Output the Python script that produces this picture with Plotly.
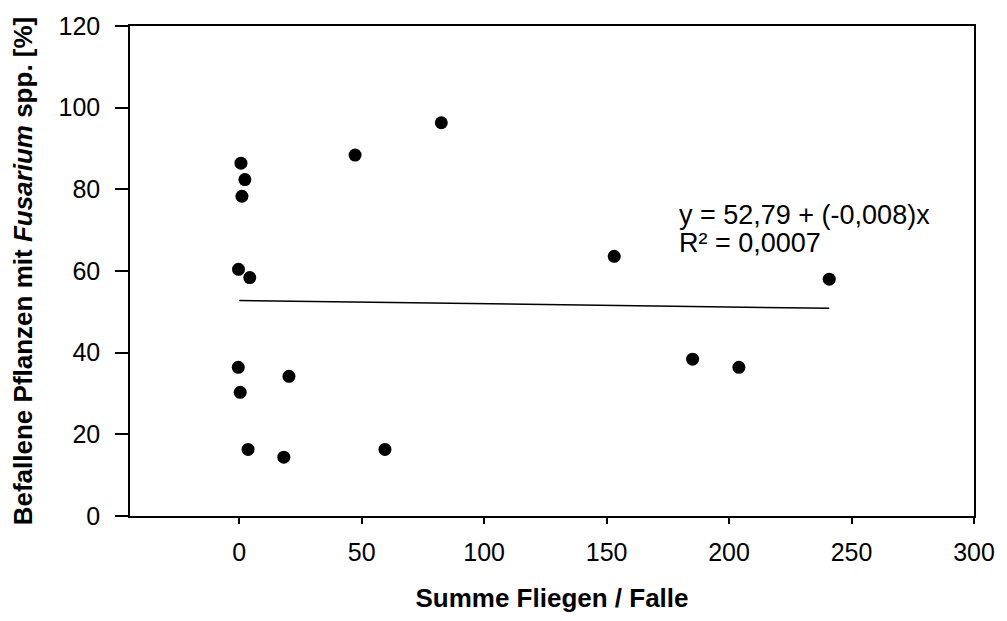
import plotly.graph_objects as go

# Data
fliegen = [0.7, 2.3, 1.1, -0.3, 4.3, -0.4, 20.3, 0.4, 3.6, 18.2, 59.5, 47.3, 82.5, 153.1, 240.9, 185.1, 204.0]
befall = [86.4, 82.4, 78.3, 60.4, 58.4, 36.4, 34.2, 30.3, 16.3, 14.4, 16.3, 88.4, 96.3, 63.6, 58.0, 38.4, 36.4]

intercept = 52.79
slope = -0.008
line_x = [0, max(fliegen)]
line_y = [intercept + slope * v for v in line_x]

x_ticks = [0, 50, 100, 150, 200, 250, 300]
y_ticks = [0, 20, 40, 60, 80, 100, 120]

eq_lines = ["y = 52,79 + (-0,008)x", "R² = 0,0007"]
eq_x = 178.7
eq_y = [73.6, 66.8]

FONT = "Arial, Liberation Sans, sans-serif"

fig = go.Figure()
fig.add_trace(go.Scatter(x=line_x, y=line_y, mode="lines",
                         line=dict(color="black", width=1.5), showlegend=False, hoverinfo="skip"))
fig.add_trace(go.Scatter(x=fliegen, y=befall, mode="markers",
                         marker=dict(color="black", size=13), showlegend=False))

for txt, yy in zip(eq_lines, eq_y):
    fig.add_annotation(x=eq_x, y=yy, xref="x", yref="y", xanchor="left", yanchor="middle",
                       text=txt, showarrow=False, align="left",
                       font=dict(family=FONT, size=27, color="black"))

fig.update_layout(
    width=1007, height=621,
    margin=dict(l=130, r=27, t=22, b=105),
    paper_bgcolor="white", plot_bgcolor="white",
    font=dict(family=FONT, color="black"),
)
fig.update_xaxes(range=[-44.6, 300], tickvals=x_ticks, ticktext=[str(v) for v in x_ticks],
                 showgrid=False, zeroline=False, showline=True, linecolor="black", linewidth=1.5,
                 mirror=True, ticks="outside", ticklen=6, tickwidth=1.5, tickcolor="black",
                 ticklabelstandoff=7,
                 tickfont=dict(family=FONT, size=25, color="black"),
                 title=dict(text="<b>Summe Fliegen / Falle</b>", standoff=24,
                            font=dict(family=FONT, size=26, color="black")))
fig.update_yaxes(range=[0, 120], tickvals=y_ticks, ticktext=[str(v) for v in y_ticks],
                 showgrid=False, zeroline=False, showline=True, linecolor="black", linewidth=1.5,
                 mirror=True, ticks="outside", ticklen=13, tickwidth=1.5, tickcolor="black",
                 ticklabelstandoff=10,
                 tickfont=dict(family=FONT, size=25, color="black"),
                 title=dict(text="<b>Befallene Pflanzen mit <i>Fusarium</i> spp. [%]</b>", standoff=18,
                            font=dict(family=FONT, size=26, color="black")))

fig.write_html("out.html")
